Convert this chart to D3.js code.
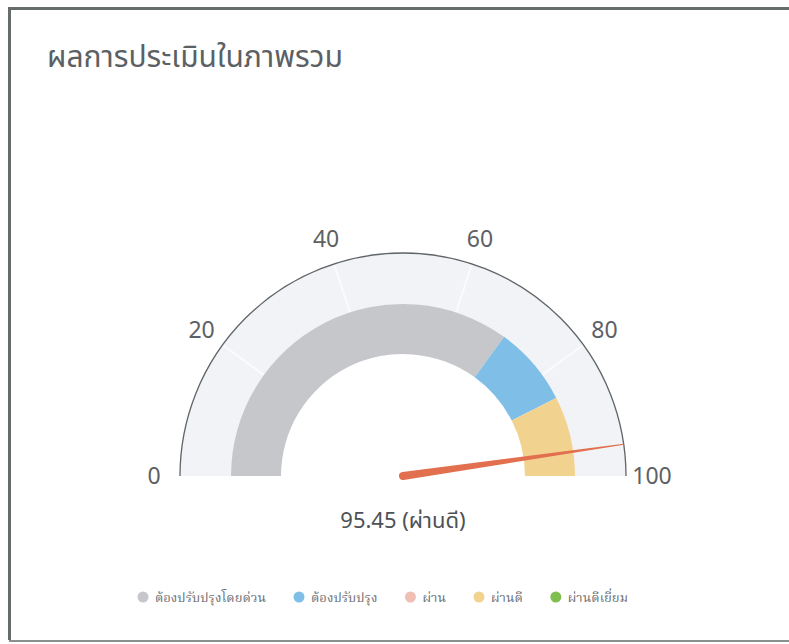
<!DOCTYPE html>
<html lang="th">
<head>
  <meta charset="UTF-8">
  <title>ผลการประเมินในภาพรวม</title>
  <script src="https://d3js.org/d3.v7.min.js"></script>
  <style>
    * { box-sizing: border-box; }
    html, body { margin: 0; background: #fff; overflow: hidden; }
    svg { display: block; }
    .title { font-family: "Noto Sans Thai", "Noto Sans", sans-serif; font-size: 30px; fill: #5b6064; }
    .tick { font-family: "Noto Sans", "Open Sans", sans-serif; font-size: 23px; fill: #5d6165; }
    .value { font-family: "Noto Sans Thai", "Noto Sans", sans-serif; font-size: 22px; fill: #4d5256; }
    .legend { font-family: "Noto Serif Thai", "Noto Sans Thai", serif; font-size: 13px; fill: #6a6e72; }
  </style>
</head>
<body>
<svg id="chart" width="789" height="644"></svg>
<script>
// gauge data
var title = 'ผลการประเมินในภาพรวม';
var score = 95.45;
var scoreLabel = 'ผ่านดี';
var tickValues = [0, 20, 40, 60, 80, 100];
var bandNames = ['ต้องปรับปรุงโดยด่วน', 'ต้องปรับปรุง', 'ผ่าน', 'ผ่านดี', 'ผ่านดีเยี่ยม'];
var bandFrom = [0, 70, 85, 85, 100];
var bandTo = [70, 85, 85, 100, 100];
var bandColors = ['#c5c7cb', '#7fbfe7', '#efbfb3', '#f2d28f', '#80be4e'];

var svg = d3.select('#chart');

// card frame (right edge runs off the page)
svg.append('path')
  .attr('d', 'M900,8.5 L9.5,8.5 L9.5,640')
  .attr('fill', 'none')
  .attr('stroke', '#666b6b')
  .attr('stroke-width', 3);
svg.append('line')
  .attr('x1', 9).attr('y1', 641).attr('x2', 789).attr('y2', 641)
  .attr('stroke', '#8a8f90')
  .attr('stroke-width', 2);

svg.append('text')
  .attr('class', 'title')
  .attr('x', 47).attr('y', 67)
  .text(title);

var cx = 403, cy = 476;
var outerR = 223, bandOuter = 172, bandInner = 122;

var angle = d3.scaleLinear().domain([0, 100]).range([-Math.PI / 2, Math.PI / 2]);

var g = svg.append('g').attr('transform', 'translate(' + cx + ',' + cy + ')');

// pane background
g.append('path')
  .attr('d', d3.arc()({innerRadius: bandOuter, outerRadius: outerR, startAngle: angle(0), endAngle: angle(100)}))
  .attr('fill', '#f1f3f6');

// faint grid lines in the pane
g.selectAll('line.grid')
  .data(tickValues.slice(1, -1))
  .enter().append('line')
  .attr('class', 'grid')
  .attr('x1', d => bandOuter * Math.sin(angle(d)))
  .attr('y1', d => -bandOuter * Math.cos(angle(d)))
  .attr('x2', d => outerR * Math.sin(angle(d)))
  .attr('y2', d => -outerR * Math.cos(angle(d)))
  .attr('stroke', '#fafbfc')
  .attr('stroke-width', 2);

// bands
var bands = bandNames.map((n, i) => ({name: n, from: bandFrom[i], to: bandTo[i], color: bandColors[i]}));
var bandArc = d3.arc().innerRadius(bandInner).outerRadius(bandOuter);
g.selectAll('path.band')
  .data(bands.filter(d => d.to > d.from))
  .enter().append('path')
  .attr('class', 'band')
  .attr('d', d => bandArc({startAngle: angle(d.from), endAngle: angle(d.to)}))
  .attr('fill', d => d.color);

// outer axis line
g.append('path')
  .attr('d', d3.arc()({innerRadius: outerR, outerRadius: outerR, startAngle: angle(0), endAngle: angle(100)}))
  .attr('fill', 'none')
  .attr('stroke', '#5f6466')
  .attr('stroke-width', 1.3);

// tick labels
var labelR = 249;
g.selectAll('text.tick')
  .data(tickValues)
  .enter().append('text')
  .attr('class', 'tick')
  .attr('x', d => labelR * Math.sin(angle(d)))
  .attr('y', d => -labelR * Math.cos(angle(d)))
  .attr('dy', '0.36em')
  .attr('text-anchor', 'middle')
  .text(d => d);

// needle
var needleLen = outerR, baseW = 4;
g.append('path')
  .attr('d', 'M' + (-baseW) + ',0 L-0.6,' + (-needleLen) + ' L0.6,' + (-needleLen) + ' L' + baseW + ',0 A' + baseW + ',' + baseW + ' 0 0 1 ' + (-baseW) + ',0 Z')
  .attr('transform', 'rotate(' + (angle(score) * 180 / Math.PI) + ')')
  .attr('fill', '#e2704f');

// value label
svg.append('text')
  .attr('class', 'value')
  .attr('x', cx).attr('y', 528)
  .attr('text-anchor', 'middle')
  .text(score.toFixed(2) + ' (' + scoreLabel + ')');

// legend
var legend = svg.append('g').attr('transform', 'translate(137,597)');
var lx = 0;
bands.forEach(function (b) {
  var item = legend.append('g').attr('transform', 'translate(' + lx + ',0)');
  item.append('circle').attr('cx', 6).attr('cy', 0).attr('r', 5.5).attr('fill', b.color);
  var t = item.append('text').attr('class', 'legend').attr('x', 18).attr('dy', '0.35em').text(b.name);
  lx += 18 + t.node().getComputedTextLength() + 27;
});
</script>
</body>
</html>
